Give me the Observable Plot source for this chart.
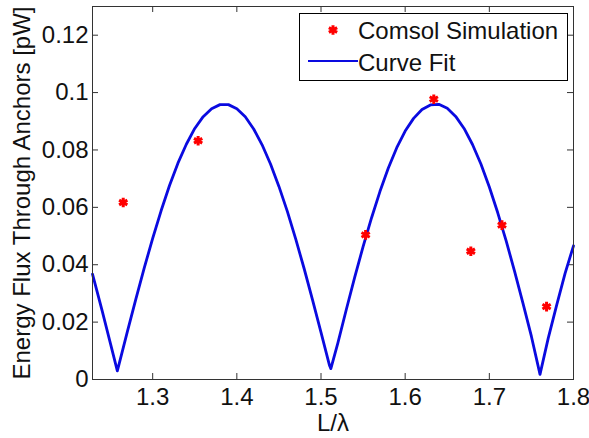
<!DOCTYPE html>
<html><head><meta charset="utf-8">
<script src="https://cdn.jsdelivr.net/npm/d3@7"></script>
<script src="https://cdn.jsdelivr.net/npm/@observablehq/plot@0.6"></script>
<style>
body{margin:0;background:#fff;}
#wrap{position:relative;width:589px;height:438px;font-family:"Liberation Sans",Arial,sans-serif;}
</style></head><body><div id="wrap"></div>
<script>
// ---- data ----
const simX = [1.265, 1.354, 1.553, 1.634, 1.678, 1.715, 1.768];
const simY = [0.0617, 0.0832, 0.0504, 0.0977, 0.0447, 0.0538, 0.0254];

const fitX = [1.2285, 1.23, 1.24, 1.25, 1.258, 1.26, 1.27, 1.28, 1.29, 1.30, 1.31, 1.32, 1.33, 1.34, 1.35, 1.36, 1.37, 1.38, 1.39, 1.40, 1.41, 1.42, 1.43, 1.44, 1.45, 1.46, 1.47, 1.48, 1.49, 1.50, 1.51, 1.5117, 1.52, 1.53, 1.54, 1.55, 1.56, 1.57, 1.58, 1.59, 1.60, 1.61, 1.62, 1.63, 1.64, 1.65, 1.66, 1.67, 1.68, 1.69, 1.70, 1.71, 1.72, 1.73, 1.74, 1.75, 1.7602, 1.77, 1.78, 1.79, 1.80];
const fitY = [0.0367, 0.0351, 0.0239, 0.0123, 0.0030, 0.0053, 0.0168, 0.0280, 0.0389, 0.0492, 0.0588, 0.0676, 0.0754, 0.0820, 0.0875, 0.0916, 0.0944, 0.0958, 0.0958, 0.0944, 0.0916, 0.0873, 0.0818, 0.0751, 0.0673, 0.0586, 0.0489, 0.0386, 0.0277, 0.0164, 0.0050, 0.0038, 0.0127, 0.0243, 0.0356, 0.0463, 0.0563, 0.0655, 0.0737, 0.0808, 0.0866, 0.0910, 0.0941, 0.0957, 0.0959, 0.0945, 0.0917, 0.0875, 0.0819, 0.0751, 0.0671, 0.0581, 0.0483, 0.0377, 0.0265, 0.0150, 0.0018, 0.0144, 0.0259, 0.0370, 0.0466];

const xTicks = [1.3, 1.4, 1.5, 1.6, 1.7, 1.8];
const xTickLabels = ["1.3", "1.4", "1.5", "1.6", "1.7", "1.8"];
const yTicks = [0, 0.02, 0.04, 0.06, 0.08, 0.1, 0.12];
const yTickLabels = ["0", "0.02", "0.04", "0.06", "0.08", "0.1", "0.12"];
const xDomain = [1.2285, 1.8];
const yDomain = [0, 0.13];
const xLabel = "L/λ";
const yLabel = "Energy Flux Through Anchors [pW]";
const legendLabels = ["Comsol Simulation", "Curve Fit"];

// ---- layout ----
const W = 589, H = 438, mL = 92, mT = 6, mR = 16, mB = 59;
const innerW = W - mL - mR, innerH = H - mT - mB, tk = 6;
const axisColor = "#333";
const fitColor = "#0a0ae0";
const simColor = "#ff0000";
const font = '"Liberation Sans", Arial, sans-serif';

const fit = fitX.map((x, i) => ({x, y: fitY[i]}));
const sim = simX.map((x, i) => ({x, y: simY[i]}));

const chart = Plot.plot({
  width: W, height: H,
  marginLeft: mL, marginTop: mT, marginRight: mR, marginBottom: mB,
  style: {fontFamily: font, fontSize: "24px", color: "#111", background: "#fff", overflow: "visible"},
  x: {domain: xDomain},
  y: {domain: yDomain},
  marks: [
    Plot.ruleX(xTicks, {x: d => d, insetTop: innerH - tk, stroke: axisColor}),
    Plot.ruleX(xTicks, {x: d => d, insetBottom: innerH - tk, stroke: axisColor}),
    Plot.ruleY(yTicks, {y: d => d, insetRight: innerW - tk, stroke: axisColor}),
    Plot.ruleY(yTicks, {y: d => d, insetLeft: innerW - tk, stroke: axisColor}),
    Plot.axisX(xTicks, {tickSize: 0, tickPadding: 8, tickFormat: d => xTickLabels[xTicks.indexOf(d)],
      label: xLabel, labelArrow: "none", labelAnchor: "center", labelOffset: 51}),
    Plot.axisY(yTicks, {tickSize: 0, tickPadding: 4, tickFormat: d => yTickLabels[yTicks.indexOf(d)],
      label: yLabel, labelArrow: "none", labelAnchor: "center", labelOffset: 80}),
    Plot.line(fit, {x: "x", y: "y", stroke: fitColor, strokeWidth: 2.8}),
    Plot.dot(sim, {x: "x", y: "y", symbol: "asterisk", r: 4.5, stroke: simColor, strokeWidth: 3}),
    Plot.frame({stroke: axisColor})
  ]
});
const wrap = document.getElementById("wrap");
wrap.appendChild(chart);

// ---- legend (inside axes, top right) ----
const lg = d3.select(wrap).append("svg")
  .attr("width", 270).attr("height", 70)
  .style("position", "absolute").style("left", "299px").style("top", "13px")
  .style("font-family", font).style("font-size", "24px");
lg.append("rect").attr("x", 0.5).attr("y", 0.5).attr("width", 268).attr("height", 67)
  .attr("fill", "#fff").attr("stroke", "#000");
lg.append("path").attr("transform", "translate(34,17)")
  .attr("d", d3.symbol(d3.symbolAsterisk, Math.PI * 4.5 * 4.5)())
  .attr("stroke", simColor).attr("stroke-width", 3).attr("fill", "none");
lg.append("line").attr("x1", 9).attr("x2", 59).attr("y1", 48).attr("y2", 48)
  .attr("stroke", fitColor).attr("stroke-width", 2);
lg.selectAll("text.lbl").data(legendLabels).join("text").attr("class", "lbl")
  .attr("x", 59).attr("y", (d, i) => i === 0 ? 26 : 58).attr("fill", "#111").text(d => d);
</script></body></html>
